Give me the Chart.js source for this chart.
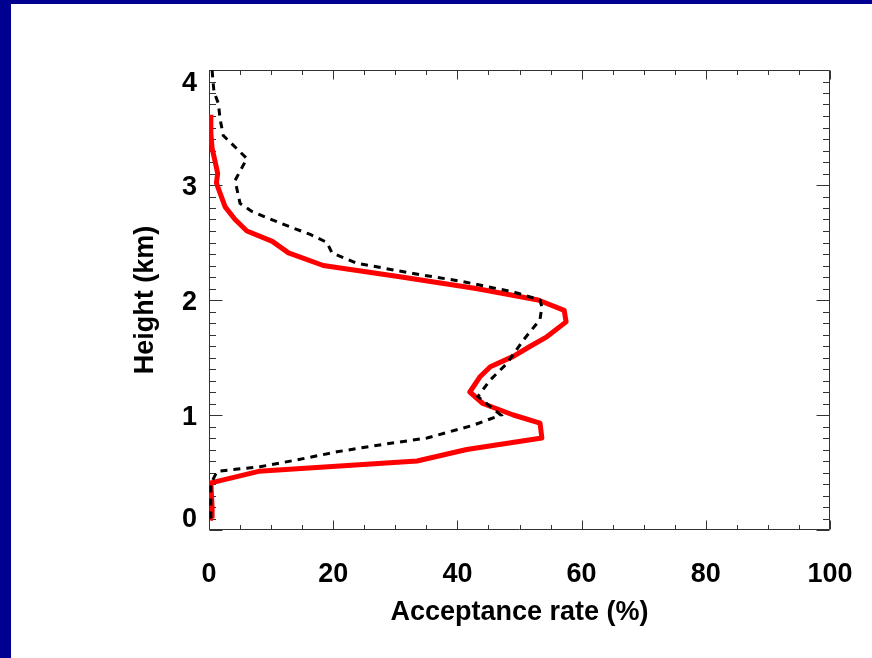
<!DOCTYPE html>
<html><head><meta charset="utf-8">
<script src="https://cdn.jsdelivr.net/npm/chart.js@4/dist/chart.umd.min.js"></script>
<style>html,body{margin:0;padding:0;background:#fff;overflow:hidden}canvas{display:block}</style>
</head><body><canvas id="c" width="872" height="658"></canvas>
<script>
// Red solid profile
const redHeight = [0.10,0.20,0.30,0.41,0.51,0.60,0.70,0.80,0.93,1.00,1.10,1.20,1.33,1.42,1.51,1.60,1.68,1.81,1.91,2.00,2.10,2.20,2.30,2.41,2.51,2.60,2.70,2.81,2.97,3.02,3.10,3.20,3.32,3.45,3.61];
const redRate   = [0.6,0.5,0.4,0.3,8.0,33.5,41.5,53.6,53.3,49.0,44.1,42.0,43.6,45.3,49.0,51.8,54.4,57.5,57.2,53.0,43.0,31.0,18.4,12.8,10.2,6.1,4.2,2.6,1.5,1.2,1.4,1.0,0.5,0.3,0.3];
// Black dashed profile
const blackHeight = [0.10,0.20,0.30,0.40,0.51,0.55,0.61,0.68,0.74,0.80,0.91,1.00,1.16,1.30,1.45,1.65,1.83,1.94,2.00,2.07,2.16,2.23,2.32,2.41,2.50,2.57,2.67,2.77,2.84,3.04,3.23,3.43,3.57,3.71,3.81,3.93,4.00];
const blackRate   = [0.3,0.3,0.3,0.3,1.3,8.2,14.2,20.6,27.5,35.1,42.5,47.0,43.3,45.2,48.0,50.6,53.3,53.6,53.3,49.0,40.9,32.9,23.8,19.8,19.0,16.3,11.4,6.9,5.0,4.2,6.1,2.3,1.8,1.5,0.8,0.6,0.5];
const xTickLabels = [0,20,40,60,80,100];
const yTickLabels = [0,1,2,3,4];
const xTitle = 'Acceptance rate (%)';
const yTitle = 'Height (km)';

const toPts = (xs, ys) => xs.map((v, i) => ({x: v, y: ys[i]}));
const FONT = '"Liberation Sans", Arial, Helvetica, sans-serif';

// vertical nudges of y tick labels (IDL pulls end labels inward)
const yLabelShift = (v) => v === 0 ? -10 : (v === 4 ? 14 : 3);

const framePlugin = {
  id: 'frame',
  afterUpdate(chart) {
    const ys = chart.scales.y;
    if (!ys || !ys.getLabelItems) return;
    const items = ys.getLabelItems(chart.chartArea);
    items.forEach((it, i) => {
      const t = ys.ticks[i];
      if (!t || !it.options || !it.options.translation) return;
      it.options.translation = [it.options.translation[0], it.options.translation[1] + yLabelShift(t.value)];
    });
  },
  beforeDraw(chart) {
    const ctx = chart.ctx;
    ctx.save();
    ctx.fillStyle = '#fff';
    ctx.fillRect(0, 0, chart.width, chart.height);
    ctx.fillStyle = '#000090';
    ctx.fillRect(0, 0, chart.width, 4);
    ctx.fillRect(0, 0, 11, chart.height);
    ctx.restore();
  },
  beforeDatasetsDraw(chart) {
    const {ctx, chartArea: a, scales: {x, y}} = chart;
    ctx.save();
    ctx.strokeStyle = '#333';
    ctx.lineWidth = 1;
    const L = Math.round(a.left) + 0.5, R = Math.round(a.right) - 0.5;
    const T = Math.round(a.top) + 0.5, B = Math.round(a.bottom) - 0.5;
    ctx.beginPath();
    ctx.rect(L, T, R - L, B - T);
    for (let i = 0; i <= 20; i++) {
      const v = i * 5;
      const px = Math.round(x.getPixelForValue(v)) + 0.5;
      const len = (v % 20 === 0) ? 9 : 4.5;
      ctx.moveTo(px, B); ctx.lineTo(px, B - len);
      ctx.moveTo(px, T); ctx.lineTo(px, T + len);
    }
    for (let i = 0; i <= 40; i++) {
      const v = i / 10;
      const py = Math.round(y.getPixelForValue(v)) + 0.5;
      const len = (i % 10 === 0) ? 13 : 6.5;
      ctx.moveTo(L, py); ctx.lineTo(L + len, py);
      ctx.moveTo(R, py); ctx.lineTo(R - len, py);
    }
    ctx.stroke();
    ctx.restore();
  }
};

new Chart(document.getElementById('c'), {
  type: 'scatter',
  data: {
    datasets: [
      {
        label: 'dashed',
        data: toPts(blackRate, blackHeight),
        showLine: true,
        borderColor: '#000000',
        borderWidth: 3,
        borderDash: [7, 6],
        pointRadius: 0,
        fill: false,
        tension: 0
      },
      {
        label: 'solid',
        data: toPts(redRate, redHeight),
        showLine: true,
        borderColor: '#ff0000',
        borderWidth: 5,
        pointRadius: 0,
        fill: false,
        tension: 0,
        borderJoinStyle: 'round'
      }
    ]
  },
  options: {
    responsive: false,
    devicePixelRatio: 1,
    animation: false,
    layout: {padding: {top: 70, right: 42, left: 0, bottom: 0}},
    plugins: {legend: {display: false}, tooltip: {enabled: false}},
    scales: {
      x: {
        type: 'linear', min: 0, max: 100,
        afterBuildTicks: (s) => { s.ticks = xTickLabels.map(v => ({value: v})); },
        afterFit: (s) => { s.height = 128; s.paddingLeft = 0; s.paddingRight = 0; },
        grid: {display: false, drawTicks: false},
        border: {display: false},
        ticks: {color: '#000', padding: 28, maxRotation: 0, font: {family: FONT, size: 27, weight: 'bold'}},
        title: {display: true, text: xTitle, color: '#000', padding: {top: 0, bottom: 29}, font: {family: FONT, size: 27, weight: 'bold'}}
      },
      y: {
        type: 'linear', min: 0, max: 4,
        afterBuildTicks: (s) => { s.ticks = yTickLabels.map(v => ({value: v})); },
        afterFit: (s) => { s.width = 209; s.paddingTop = 0; s.paddingBottom = 0; },
        grid: {display: false, drawTicks: false},
        border: {display: false},
        ticks: {color: '#000', padding: 12, font: {family: FONT, size: 27, weight: 'bold'}},
        title: {display: true, text: yTitle, color: '#000', padding: {top: 129, bottom: 0}, font: {family: FONT, size: 27, weight: 'bold'}}
      }
    }
  },
  plugins: [framePlugin]
});
</script>
</body></html>
